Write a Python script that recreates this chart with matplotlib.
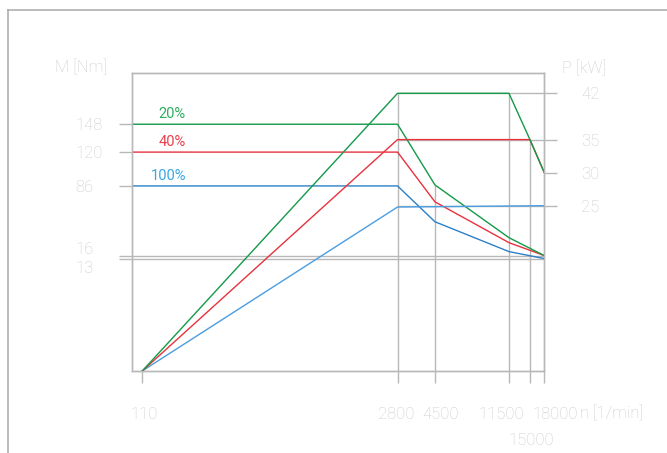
import matplotlib
matplotlib.use("Agg")
import matplotlib.pyplot as plt
import matplotlib.transforms as mtransforms
from matplotlib.lines import Line2D

plt.rcParams["font.family"] = ["Roboto", "DejaVu Sans"]

# speed axis (rpm)
speed_ticks = [110, 2800, 4500, 11500, 15000, 18000]
speed_labels = ["110", "2800", "4500", "11500", "15000", "18000"]

# torque curves, constant torque up to 2800 rpm
torque_speed = [2800, 4500, 11500, 18000]
torque_20 = [148, 87, 34, 16]
torque_40 = [120, 70, 29, 16]
torque_100 = [86, 50, 20, 13]

# power curves
power_speed = [110, 2800, 4500, 11500, 15000, 18000]
power_20 = [0, 42, 42, 42, 35, 30]
power_40 = [0, 35, 35, 35, 35, 30]
power_100_speed = [110, 2800, 18000]
power_100 = [0, 24.8, 25]

torque_ticks = [148, 120, 86, 16, 13]
power_ticks = [42, 35, 30, 25]
duty_labels = ["20%", "40%", "100%"]

GREEN, RED, BLUE = "#139a48", "#e8323e", "#2b80c6"
BLUE_P = "#4a9de0"
LABEL_COLORS = ["#2fae62", "#e8404a", "#3aa6e4"]
GRAY = "#b8b8b8"
TXT = "#cbcbcb"
FS = 12

fig = plt.figure(figsize=(6.67, 4.53), dpi=100)
ax = fig.add_axes([132.3 / 667, 82 / 453, 412 / 667, 298 / 453])
ax2 = ax.twinx()

XMIN, XMAX = 97, 18000
for a in (ax, ax2):
    a.set_xscale("log")
    a.set_xlim(XMIN, XMAX)
    a.minorticks_off()
    for s in a.spines.values():
        s.set_color(GRAY)
        s.set_linewidth(1.0)
ax.set_ylim(-100, 199.5)
ax2.set_ylim(0, 45.07)
ax.patch.set_visible(False)

# gray reference lines
pt = ax2.transData
ax.hlines([16, 13], XMIN, XMAX, color=GRAY, lw=1.0, zorder=1)
ax.hlines([42, 35, 25], 2800, XMAX, color=GRAY, lw=1.0, zorder=1, transform=pt)
ax.vlines([2800, 11500, 15000], 0, [42, 42, 35], color=GRAY, lw=1.0, zorder=1, transform=pt)
ax.vlines(4500, -100, torque_20[1], color=GRAY, lw=1.0, zorder=1)

# torque curves start at the left edge
for vals, c in zip([torque_100, torque_40, torque_20], [BLUE, RED, GREEN]):
    ax.plot([XMIN] + torque_speed, [vals[0]] + vals, color=c, lw=1.0, zorder=3)

ax.plot(power_100_speed, power_100, color=BLUE_P, lw=1.0, zorder=3, transform=pt)
ax.plot(power_speed, power_40, color=RED, lw=1.0, zorder=3, transform=pt)
ax.plot(power_speed, power_20, color=GREEN, lw=1.0, zorder=4, transform=pt)

# duty labels above the torque lines
blend = mtransforms.blended_transform_factory(ax.transAxes, ax.transData)
for lab, val, c in zip(duty_labels, [torque_20[0], torque_40[0], torque_100[0]], LABEL_COLORS):
    ax.annotate(lab, xy=(0.130, val), xycoords=blend, xytext=(0, 3),
                textcoords="offset pixels", ha="right", va="bottom",
                color=c, fontsize=10.5)

# left ticks
ax.set_yticks(torque_ticks)
ax.set_yticklabels([str(t) for t in torque_ticks])
ax.tick_params(axis="y", direction="out", length=9.4, width=1.0, color=GRAY,
               labelcolor=TXT, labelsize=FS, pad=31.5)
for lab in ax.get_yticklabels():
    lab.set_horizontalalignment("left")
    lab.set_fontweight("light")
dy = {"16": 8, "13": -8}
for lab, t in zip(ax.get_yticklabels(), torque_ticks):
    if str(t) in dy:
        lab.set_transform(lab.get_transform() + mtransforms.ScaledTranslation(0, dy[str(t)] / 100, fig.dpi_scale_trans))

# right ticks
ax2.set_yticks(power_ticks)
ax2.set_yticklabels([str(t) for t in power_ticks])
ax2.tick_params(axis="y", direction="out", length=9.4, width=1.0, color=GRAY,
                labelcolor=TXT, labelsize=FS, pad=17)
for lab in ax2.get_yticklabels():
    lab.set_fontweight("light")

# speed ticks
ax.set_xticks(speed_ticks)
ax.set_xticklabels(speed_labels)
ax.tick_params(axis="x", direction="out", length=8.6, width=1.0, color=GRAY,
               labelcolor=TXT, labelsize=FS, pad=17)
ax2.tick_params(axis="x", length=0)
dx = {"110": (2, 0), "2800": (-1, 0), "4500": (6, 0), "11500": (-7.5, 0),
      "15000": (1, -26), "18000": (10.5, 0)}
for lab, name in zip(ax.get_xticklabels(), speed_labels):
    lab.set_fontweight("light")
    ox, oy = dx[name]
    lab.set_transform(lab.get_transform() + mtransforms.ScaledTranslation(ox / 100, oy / 100, fig.dpi_scale_trans))

fig.text(55 / 667, 1 - 67 / 453, "M [Nm]", color=TXT, fontsize=FS, fontweight="light", va="center")
fig.text(561.7 / 667, 1 - 68 / 453, "P [kW]", color=TXT, fontsize=FS, fontweight="light", va="center")
fig.text(580 / 667, 1 - 412.7 / 453, "n [1/min]", color=TXT, fontsize=FS, fontweight="light", va="center")

# outer frame, top and left edges
fig.add_artist(Line2D([8 / 667, 1], [1 - 10 / 453] * 2, transform=fig.transFigure, color="#a8a8a8", lw=1.1))
fig.add_artist(Line2D([8 / 667] * 2, [0, 1 - 10 / 453], transform=fig.transFigure, color="#a8a8a8", lw=1.1))

fig.savefig("out.png", dpi=100)
